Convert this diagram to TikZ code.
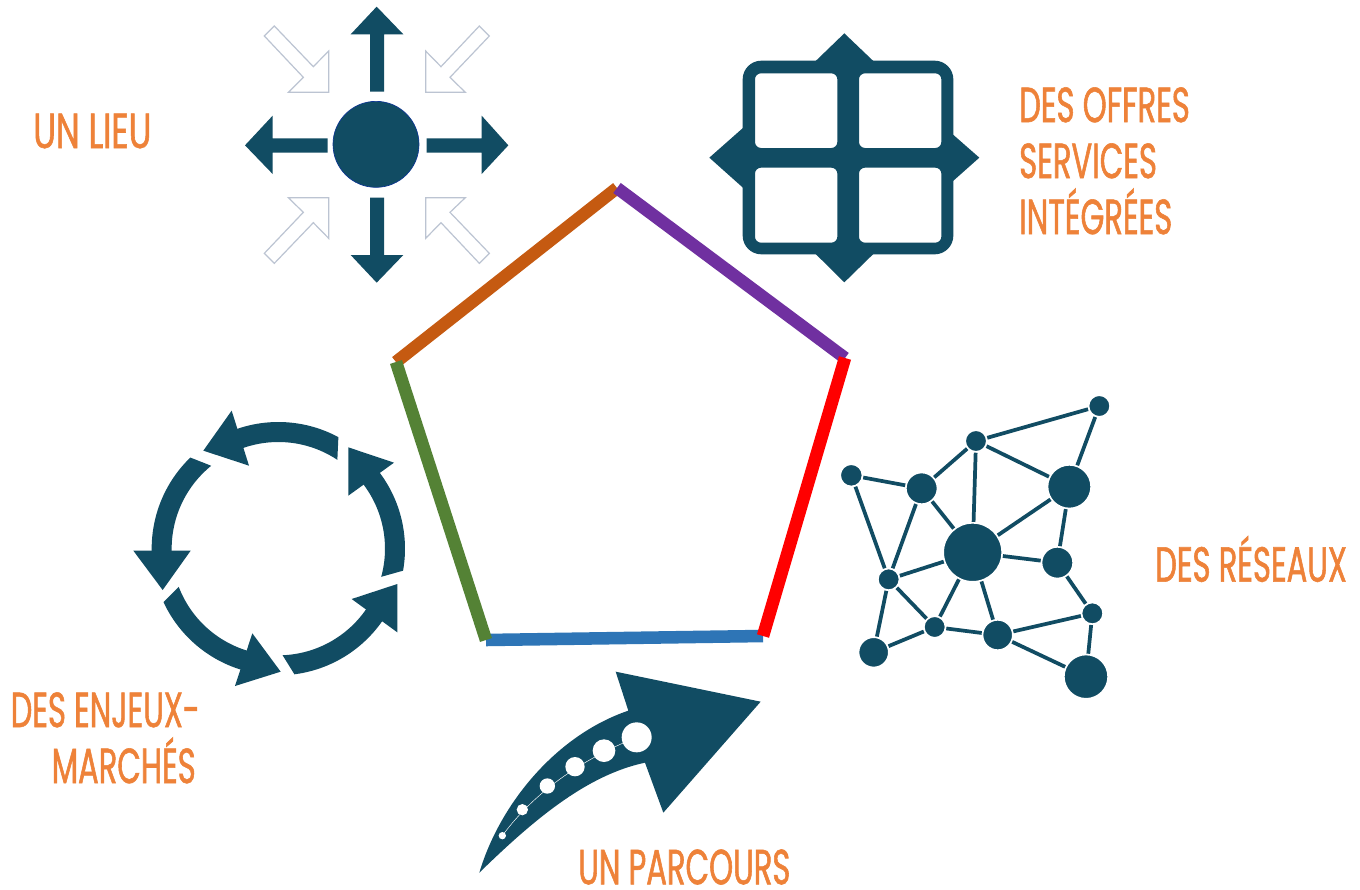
\documentclass[tikz,border=0pt]{standalone}
\usepackage{fontspec}
\newfontfamily\labelfont[FakeStretch=0.62,FakeBold=1.1]{Poppins}
\definecolor{ink}{HTML}{114C63}
\definecolor{ghost}{HTML}{BCC4D2}
\definecolor{lab}{HTML}{EE8239}
\definecolor{sBrown}{HTML}{C55A11}
\definecolor{sPurple}{HTML}{7030A0}
\definecolor{sRed}{HTML}{FF0000}
\definecolor{sBlue}{HTML}{2E75B6}
\definecolor{sGreen}{HTML}{548235}
\tikzset{
  px/.style={x=0.75pt,y=-0.75pt},
  lbl/.style={text=lab,inner sep=0,font=\labelfont\fontsize{37}{42}\selectfont},
  side/.style={line width=9.4pt,line cap=butt},
  solidarrow/.style={fill=ink,draw=none},
  ghostarrow/.style={draw=ghost,line width=0.9pt,fill=white,line join=miter},
  net/.style={circle,fill=ink,draw=white,line width=1.3pt,inner sep=0,minimum size=#1*0.5pt+1.3pt},
  link/.style={draw=ink,line width=2.8pt,line cap=butt},
}
% ring between radii 380 and 320 around (475,446), zoom units
\newcommand{\cyc}[4]{%
  \fill[ink] plot[variable=\t,samples=40,domain=#1:#2] ({475+380*cos(\t)},{446-380*sin(\t)})
   -- plot[variable=\t,samples=40,domain=#4:#3] ({475+320*cos(\t)},{446-320*sin(\t)}) -- cycle;}
\begin{document}
\begin{tikzpicture}[px]
\useasboundingbox (0,0) rectangle (1360,889);
\fill[white] (0,0) rectangle (1360,889);

% pentagon
\coordinate (pTop) at (617,188);
\coordinate (pRight) at (845,358);
\coordinate (pLowR) at (763,636);
\coordinate (pLowL) at (486,640);
\coordinate (pLeft) at (396,362);
\draw[side,sBrown] (pLeft) -- (pTop);
\draw[side,sPurple] (pTop) -- (pRight);
\draw[side,sBlue] (pLowR) -- (pLowL);
\draw[side,sRed] (pRight) -- (pLowR);
\draw[side,sGreen] (pLowL) -- (pLeft);

% un lieu icon
\begin{scope}[shift={(230,0)},scale=1/3]
\draw[ghostarrow] (133,78)--(103,108)--(220,232)--(175,277)--(296,277)--(296,153)--(250,200)--cycle;
\draw[ghostarrow] (748,78)--(778,108)--(660,232)--(706,277)--(587,277)--(587,153)--(633,200)--cycle;
\draw[ghostarrow] (103,760)--(133,790)--(250,668)--(296,715)--(296,593)--(175,593)--(220,637)--cycle;
\draw[ghostarrow] (778,760)--(748,790)--(633,668)--(587,715)--(587,593)--(706,593)--(660,637)--cycle;
\fill[solidarrow] (440,20)--(520,103)--(462,103)--(462,275)--(420,275)--(420,103)--(362,103)--cycle;
\fill[solidarrow] (440,848)--(520,765)--(462,765)--(462,593)--(420,593)--(420,765)--(362,765)--cycle;
\fill[solidarrow] (835,436)--(755,347)--(755,415)--(590,415)--(590,458)--(755,458)--(755,522)--cycle;
\fill[solidarrow] (45,436)--(128,347)--(128,415)--(293,415)--(293,458)--(128,458)--(128,522)--cycle;
\fill[ink] (438,433) circle[radius=129];
\draw[ink!70!blue,line width=0.5pt] (438,433) circle[radius=129];
\end{scope}

% services icon
\begin{scope}[shift={(700,25)},scale=1/3]
\fill[ink,even odd rule]
  [rounded corners=14pt] (128,107) -- (760,107) -- (760,688) -- (128,688) -- cycle
  [rounded corners=4.5pt]
  (165,145) rectangle (412,369) (477,145) rectangle (724,369)
  (165,428) rectangle (412,653) (477,428) rectangle (724,653);
\fill[ink] (345,110)--(433,25)--(522,110)--cycle;
\fill[ink] (345,685)--(433,772)--(522,685)--cycle;
\fill[ink] (131,307)--(28,398)--(131,490)--cycle;
\fill[ink] (757,327)--(838,398)--(757,470)--cycle;
\end{scope}

% enjeux cycle icon
\begin{scope}[shift={(120,400)},scale=1/3]
\cyc{61.7}{113}{56.4}{113}
\fill[ink] (335,32)--(250,152)--(387,197)--cycle;
\cyc{134}{185}{129}{185}
\fill[ink] (40,452)--(212,452)--(128,570)--cycle;
\cyc{205}{256}{201}{257}
\fill[ink] (397,700)--(482,815)--(345,858)--cycle;
\cyc{277.3}{328}{272.3}{329}
\fill[ink] (695,597)--(832,552)--(832,697)--cycle;
\cyc{-10}{40}{-15.3}{40}
\fill[ink] (685,142)--(822,188)--(685,287)--cycle;
\end{scope}

% parcours arrow icon
\begin{scope}[shift={(470,660)},scale=1/3]
\fill[ink] (28,638) .. controls (90,430) and (260,225) .. (475,152)
  -- (437,35) -- (872,125) -- (580,458) -- (525,308)
  .. controls (350,345) and (190,480) .. (28,638) -- cycle;
\draw[white,line width=0.35pt] (97,527) .. controls (190,400) and (330,300) .. (500,232);
\fill[white] (500,232) circle[radius=45] (402,272) circle[radius=34] (315,320) circle[radius=29]
  (232,378) circle[radius=23] (157,449) circle[radius=17] (97,527) circle[radius=11];
\end{scope}

% network icon
\begin{scope}[shift={(830,390)},scale=1/3]
\node[net=30] (a) at (808,48) {};
\node[net=30] (b) at (438,153) {};
\node[net=63] (c) at (718,290) {};
\node[net=31] (d) at (64,256) {};
\node[net=45] (e) at (275,295) {};
\node[net=86] (f) at (428,487) {};
\node[net=45] (g) at (682,518) {};
\node[net=30] (h) at (176,568) {};
\node[net=30] (i) at (787,670) {};
\node[net=30] (j) at (314,711) {};
\node[net=43] (k) at (503,735) {};
\node[net=43] (l) at (131,787) {};
\node[net=64] (m) at (768,860) {};
\foreach \p/\q in {a/b,a/c,b/c,b/e,b/f,d/e,d/h,e/h,e/f,c/f,c/g,f/g,f/h,f/j,f/k,g/i,h/l,h/j,j/l,j/k,k/i,k/m,i/m}
  \draw[link] (\p) -- (\q);
\end{scope}

% labels
\node[lbl,anchor=west,xscale=1.1,transform shape] (lLieu) at (33,131) {UN LIEU};
\node[lbl,anchor=north west,align=left] (lOffres) at (1019,87) {DES OFFRES\\SERVICES\\INTÉGRÉES};
\node[lbl,anchor=west] (lReseaux) at (1155,559) {DES RÉSEAUX};
\node[lbl,anchor=north east,align=right] (lEnjeux) at (200,692) {DES ENJEUX-\\MARCHÉS\hspace*{3pt}};
\node[lbl,anchor=west] (lParcours) at (578,867) {UN PARCOURS};
\end{tikzpicture}
\end{document}
